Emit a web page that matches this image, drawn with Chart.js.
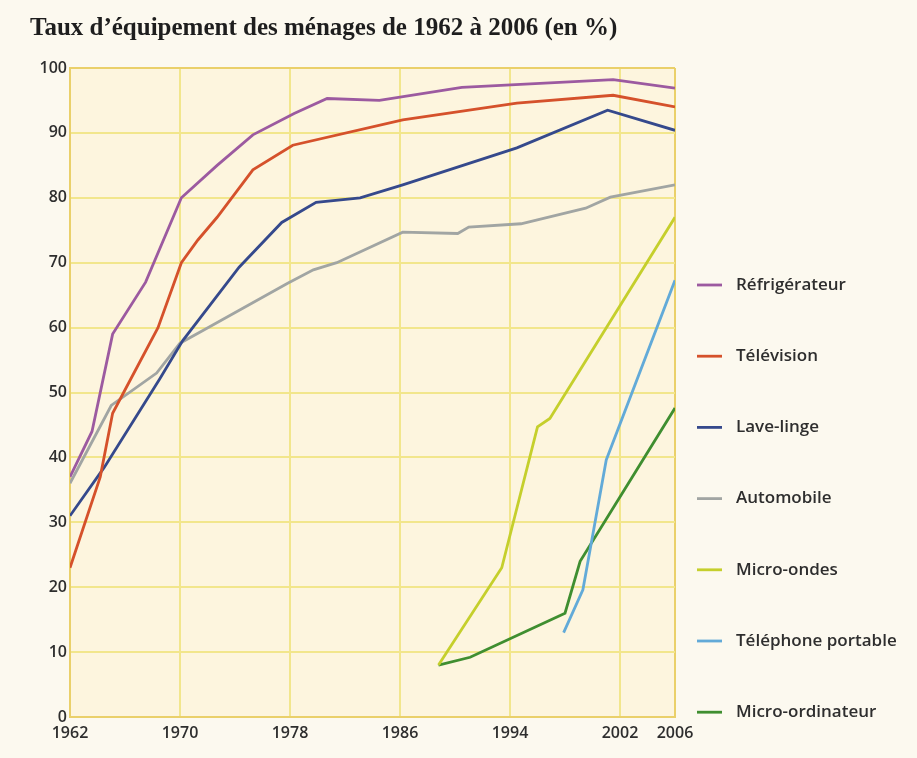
<!DOCTYPE html>
<html>
<head>
<meta charset="utf-8">
<title>Taux d'équipement des ménages</title>
<script src="https://cdn.jsdelivr.net/npm/chart.js@4.4.1/dist/chart.umd.min.js"></script>
<style>
  html, body { margin: 0; padding: 0; background: #fcf9ef; }
  #wrap { width: 917px; height: 758px; }
</style>
</head>
<body>
<div id="wrap"><canvas id="equipChart" width="917" height="758"></canvas></div>
<script>
// Valeurs (années, % des ménages)
const refrigYears = [1962, 1963.6, 1965.1, 1967.5, 1970.1, 1972.7, 1975.3, 1978.3, 1980.7, 1984.5, 1990.5, 2001.5, 2006];
const refrigValues = [37, 44, 59, 67, 80, 85, 89.7, 93, 95.3, 95, 97, 98.2, 96.9];

const tvYears = [1962, 1964.2, 1965.1, 1966.4, 1968.4, 1970.1, 1971.3, 1972.7, 1975.3, 1978.2, 1986.2, 1994.5, 2001.5, 2006];
const tvValues = [23, 37, 46.8, 52, 60, 70, 73.5, 77, 84.3, 88.1, 92, 94.6, 95.8, 94];

const laveYears = [1962, 1964.5, 1968.5, 1970.2, 1974.3, 1977.4, 1979.9, 1983.1, 1986.2, 1994.5, 2001.1, 2006];
const laveValues = [31, 38.5, 52, 58, 69.3, 76.2, 79.3, 80, 82, 87.7, 93.5, 90.4];

const autoYears = [1962, 1965, 1968.3, 1970, 1971.7, 1977.8, 1979.7, 1981.4, 1986.2, 1990.2, 1991, 1994.8, 1999.5, 2001.3, 2006];
const autoValues = [36, 48, 53, 57.6, 59.6, 66.8, 68.9, 70, 74.7, 74.5, 75.5, 76, 78.4, 80.1, 82];

const microOndesYears = [1988.8, 1993.4, 1996, 1996.9, 2006];
const microOndesValues = [8, 23, 44.7, 46, 77];

const portableYears = [1997.9, 1999.3, 2001, 2006];
const portableValues = [13, 19.6, 39.6, 67.3];

const ordiYears = [1988.8, 1991.1, 1998, 1999.1, 2006];
const ordiValues = [8, 9.2, 16, 24, 47.6];

const seriesLabels = ['Réfrigérateur', 'Télévision', 'Lave-linge', 'Automobile', 'Micro-ondes', 'Téléphone portable', 'Micro-ordinateur'];
const xTickYears = [1962, 1970, 1978, 1986, 1994, 2002, 2006];

const colors = ['#9c5aa0', '#d5512b', '#35498c', '#a1a5a3', '#c5cf2c', '#62aad8', '#3f8e30'];

function toPoints(years, values) {
    return years.map((year, i) => ({ x: year, y: values[i] }));
}

const allSeries = [
    toPoints(refrigYears, refrigValues),
    toPoints(tvYears, tvValues),
    toPoints(laveYears, laveValues),
    toPoints(autoYears, autoValues),
    toPoints(microOndesYears, microOndesValues),
    toPoints(portableYears, portableValues),
    toPoints(ordiYears, ordiValues)
];

const datasets = allSeries.map((points, i) => ({
    label: seriesLabels[i],
    data: points,
    borderColor: colors[i],
    backgroundColor: colors[i],
    borderWidth: 2.8,
    pointRadius: 0,
    tension: 0,
    fill: false
}));

const textColor = '#2e2e2e';
const gridColor = '#f2e68c';
const frameColor = '#ead06a';

// fond du papier et de la zone du graphique
const backgroundPlugin = {
    id: 'paper',
    beforeDraw(chart) {
        const { ctx, chartArea } = chart;
        ctx.save();
        ctx.fillStyle = '#fcf9ef';
        ctx.fillRect(0, 0, chart.width, chart.height);
        ctx.fillStyle = '#fdf5de';
        ctx.fillRect(chartArea.left, chartArea.top, chartArea.right - chartArea.left, chartArea.bottom - chartArea.top);
        ctx.restore();
    }
};

// légende à droite, un élément par série
const sideLegend = {
    id: 'sideLegend',
    afterDraw(chart) {
        const ctx = chart.ctx;
        const top = 285;
        const step = 71.2;
        ctx.save();
        ctx.font = '600 17px "Open Sans"';
        ctx.textBaseline = 'middle';
        ctx.textAlign = 'left';
        chart.data.datasets.forEach((ds, i) => {
            const y = top + i * step;
            ctx.strokeStyle = ds.borderColor;
            ctx.lineWidth = 2.8;
            ctx.beginPath();
            ctx.moveTo(697, y);
            ctx.lineTo(722, y);
            ctx.stroke();
            ctx.fillStyle = textColor;
            ctx.fillText(ds.label, 736, y);
        });
        ctx.restore();
    }
};

const ctx = document.getElementById('equipChart').getContext('2d');
new Chart(ctx, {
    type: 'line',
    data: { datasets: datasets },
    plugins: [backgroundPlugin, sideLegend],
    options: {
        responsive: false,
        animation: false,
        layout: {
            padding: { left: 30, right: 242, top: 0, bottom: 11 }
        },
        scales: {
            x: {
                type: 'linear',
                min: 1962,
                max: 2006,
                afterBuildTicks: scale => {
                    scale.ticks = xTickYears.map(v => ({ value: v }));
                },
                afterFit: scale => { scale.height = 30; },
                ticks: {
                    color: textColor,
                    font: { family: 'Open Sans', size: 16, weight: '600' },
                    padding: 7,
                    maxRotation: 0,
                    autoSkip: false,
                    callback: value => String(value)
                },
                grid: {
                    drawTicks: false,
                    lineWidth: 2,
                    color: c => (c.tick && c.tick.value === 2006 ? frameColor : gridColor)
                },
                border: { color: frameColor, width: 2 }
            },
            y: {
                min: 0,
                max: 100,
                afterFit: scale => { scale.width = 40; },
                ticks: {
                    stepSize: 10,
                    color: textColor,
                    font: { family: 'Open Sans', size: 16, weight: '600' },
                    padding: 3
                },
                grid: {
                    drawTicks: false,
                    lineWidth: 2,
                    color: c => (c.tick && c.tick.value === 100 ? frameColor : gridColor)
                },
                border: { color: frameColor, width: 2 }
            }
        },
        plugins: {
            legend: { display: false },
            tooltip: { enabled: false },
            title: {
                display: true,
                text: 'Taux d\u2019équipement des ménages de 1962 à 2006 (en %)',
                align: 'start',
                color: '#1e1e1e',
                font: { family: 'Liberation Serif', size: 25, weight: 'bold', lineHeight: 1.2 },
                padding: { top: 14, bottom: 24 }
            }
        }
    }
});
</script>
</body>
</html>
